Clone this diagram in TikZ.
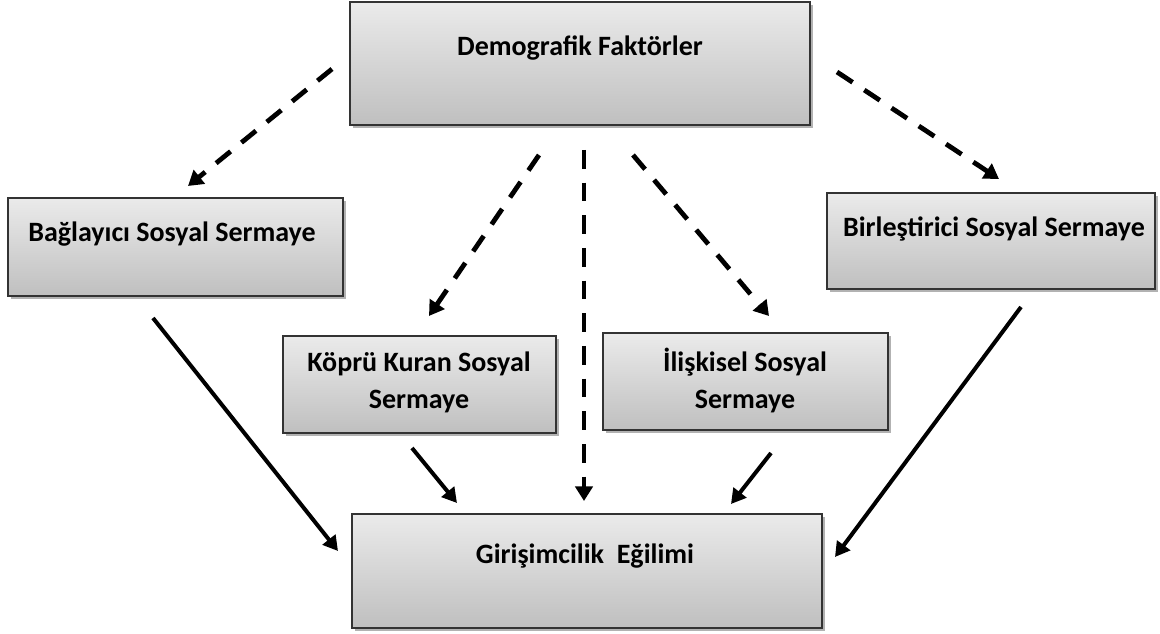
\documentclass[tikz,border=0pt]{standalone}
\usepackage{fontspec}
\setmainfont{Carlito}
\usetikzlibrary{arrows.meta,shadows}
\begin{document}
\begin{tikzpicture}[x=0.75pt,y=-0.75pt,
  box/.style={draw=black!80, line width=1.1pt, top color=gray!16, bottom color=gray!50,
    inner sep=0pt, outer sep=0pt,
    drop shadow={shadow xshift=2pt, shadow yshift=-2.2pt, opacity=0.3, fill=black}},
  lbl/.style={font=\fontsize{21}{27.75}\selectfont\bfseries, align=center, inner sep=0pt},
  dasharrow/.style={line width=3.6pt, dash pattern=on 14pt off 10.5pt,
    -{Triangle[length=11pt,width=13pt]}},
  solidarrow/.style={line width=3pt, -{Triangle[length=11pt,width=12pt]}}]
\useasboundingbox (0,0) rectangle (1160,634);
% boxes
\node[box, minimum width=345pt, minimum height=92.25pt] (demo) at (580,63.5) {};
\node[box, minimum width=251.25pt, minimum height=73.5pt] (bag) at (175.5,247) {};
\node[box, minimum width=204.75pt, minimum height=72.75pt] (kop) at (419.5,384.5) {};
\node[box, minimum width=213.75pt, minimum height=72.75pt] (ilis) at (745.5,381.5) {};
\node[box, minimum width=246pt, minimum height=72pt] (bir) at (991,241) {};
\node[box, minimum width=352.5pt, minimum height=85.5pt] (gir) at (587,571) {};
% labels
\node[lbl] (tdemo) at (580,48) {Demografik Faktörler};
\node[lbl] (tbag) at (172,234) {Bağlayıcı Sosyal Sermaye};
\node[lbl] (tkop) at (419,382) {Köprü Kuran Sosyal\\Sermaye};
\node[lbl] (tilis) at (745,380) {İlişkisel Sosyal\\Sermaye};
\node[lbl] (tbir) at (994,229) {Birleştirici Sosyal Sermaye};
\node[lbl] (tgir) at (585,556) {Girişimcilik\ \ Eğilimi};
% connector end points
\coordinate (d1s) at (332,69);  \coordinate (d1e) at (188,186);
\coordinate (d2s) at (539,155); \coordinate (d2e) at (429,316);
\coordinate (d3s) at (584,150); \coordinate (d3e) at (584,501);
\coordinate (d4s) at (633,155); \coordinate (d4e) at (769,316);
\coordinate (d5s) at (837,72);  \coordinate (d5e) at (999,179);
\coordinate (s1s) at (153,318); \coordinate (s1e) at (338,551);
\coordinate (s2s) at (412,448); \coordinate (s2e) at (457,503);
\coordinate (s3s) at (771,453); \coordinate (s3e) at (731,504);
\coordinate (s4s) at (1021,307);\coordinate (s4e) at (835,557);
% connectors
\draw[dasharrow] (d1s) -- (d1e);
\draw[dasharrow] (d2s) -- (d2e);
\draw[dasharrow] (d3s) -- (d3e);
\draw[dasharrow] (d4s) -- (d4e);
\draw[dasharrow] (d5s) -- (d5e);
\draw[solidarrow] (s1s) -- (s1e);
\draw[solidarrow] (s2s) -- (s2e);
\draw[solidarrow] (s3s) -- (s3e);
\draw[solidarrow] (s4s) -- (s4e);
\end{tikzpicture}
\end{document}
